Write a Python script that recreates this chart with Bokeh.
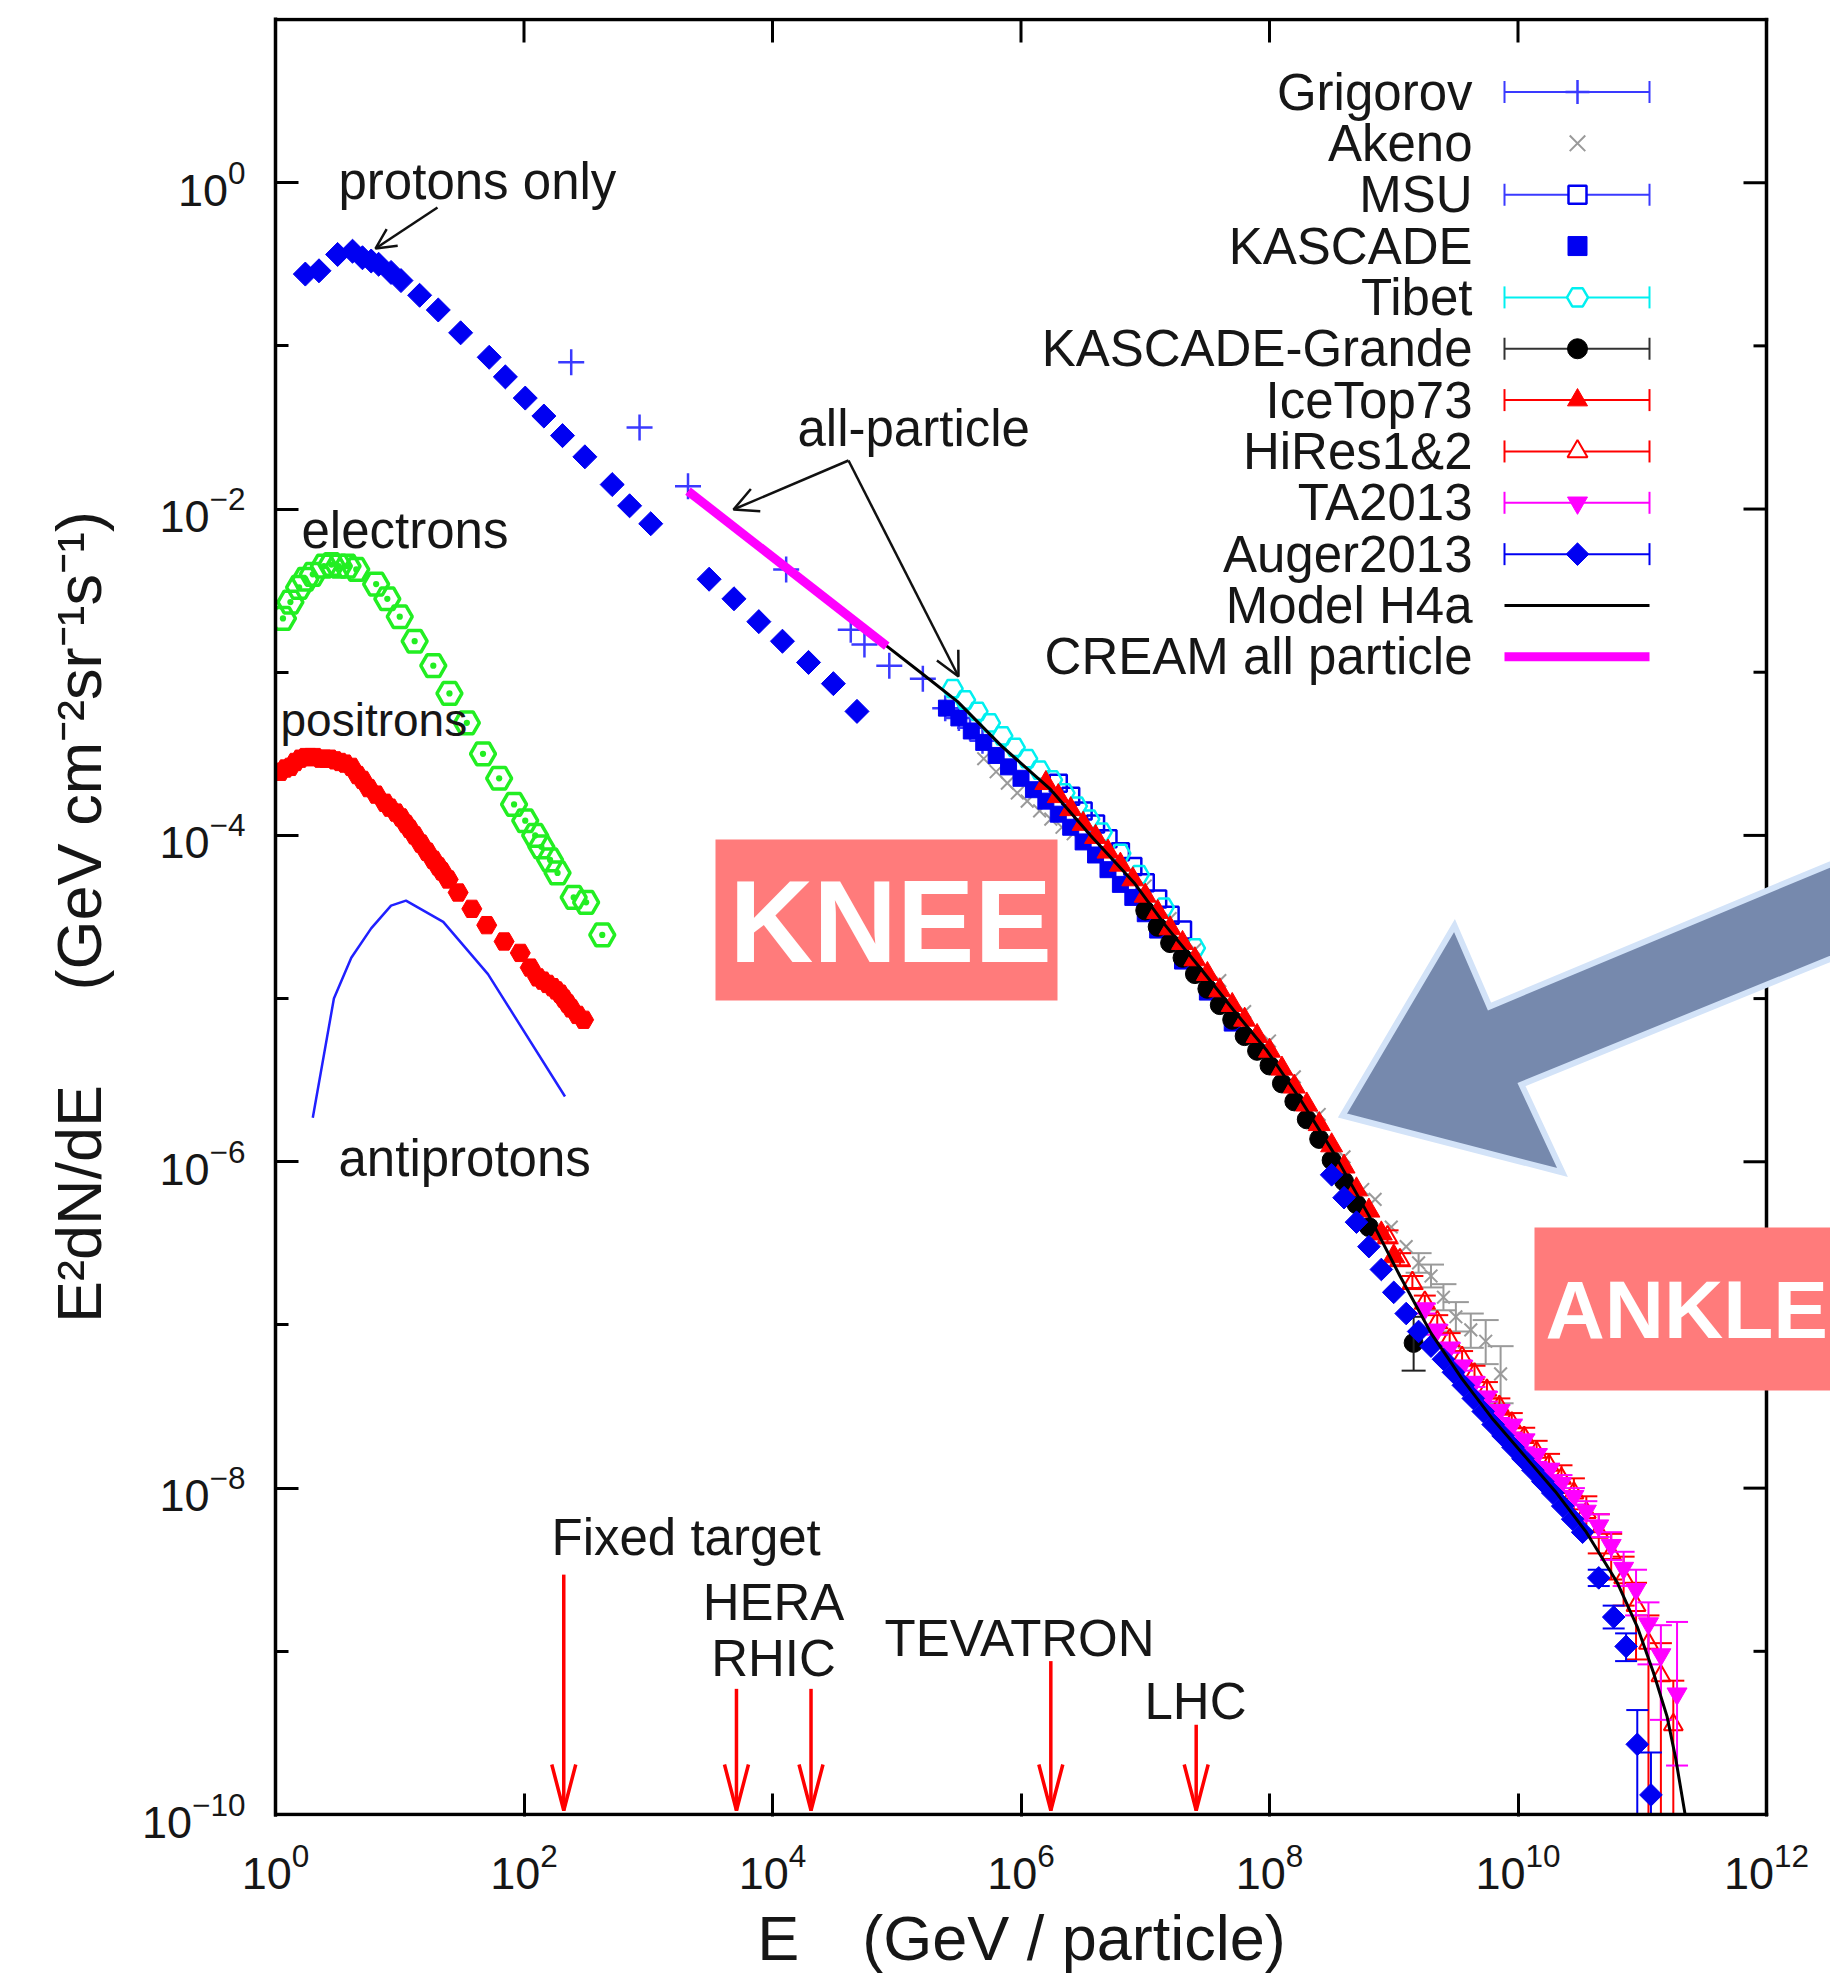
import numpy as np
from bokeh.plotting import figure
from bokeh.models import Range1d, LinearScale, FixedTicker, Arrow, OpenHead
from bokeh.embed import file_html
from bokeh.resources import INLINE
from bokeh.core.properties import value

# ---------------------------------------------------------------------------
# Data: log10(E / GeV) and log10(E^2 dN/dE [GeV cm^-2 sr^-1 s^-1])
# ---------------------------------------------------------------------------
protons_lgE = [0.24, 0.35, 0.50, 0.62, 0.70, 0.77, 0.83, 0.93, 1.01, 1.16, 1.31, 1.49, 1.72, 1.85,
               2.01, 2.16, 2.31, 2.49, 2.71, 2.85, 3.02, 3.49, 3.69, 3.89, 4.08, 4.29, 4.49, 4.68]
protons_lgF = [-0.56, -0.54, -0.44, -0.42, -0.46, -0.48, -0.50, -0.55, -0.60, -0.69, -0.78, -0.92, -1.07, -1.19,
               -1.32, -1.43, -1.55, -1.68, -1.85, -1.98, -2.09, -2.43, -2.55, -2.69, -2.81, -2.94, -3.07, -3.24]

electrons_lgE = [0.06, 0.12, 0.19, 0.24, 0.30, 0.39, 0.45, 0.51, 0.58, 0.65, 0.81, 0.90, 1.00, 1.12, 1.27,
                 1.40, 1.54, 1.67, 1.80, 1.92, 2.01, 2.09, 2.14, 2.21, 2.27, 2.40, 2.50, 2.63]
electrons_lgF = [-2.67, -2.57, -2.48, -2.43, -2.40, -2.35, -2.34, -2.35, -2.35, -2.37, -2.46, -2.55, -2.66, -2.81, -2.96,
                 -3.13, -3.31, -3.50, -3.65, -3.81, -3.91, -4.00, -4.07, -4.15, -4.23, -4.38, -4.41, -4.61]

positrons_lgE = [0.04, 0.08, 0.12, 0.16, 0.20, 0.24, 0.28, 0.32, 0.36, 0.40, 0.44, 0.48, 0.52, 0.56, 0.61,
                 0.66, 0.70, 0.75, 0.81, 0.88, 0.92, 0.97, 1.01, 1.05, 1.08, 1.12, 1.17, 1.22, 1.27, 1.31,
                 1.34, 1.39, 1.47, 1.58, 1.70, 1.84, 1.97, 2.05, 2.11, 2.15, 2.19, 2.23, 2.26, 2.29, 2.32,
                 2.35, 2.38, 2.43, 2.48]
positrons_lgF = [-3.61, -3.59, -3.58, -3.55, -3.53, -3.52, -3.52, -3.52, -3.53, -3.53, -3.53, -3.54, -3.55, -3.56, -3.58,
                 -3.63, -3.66, -3.71, -3.75, -3.80, -3.83, -3.86, -3.89, -3.93, -3.96, -4.00, -4.05, -4.10, -4.15, -4.19,
                 -4.22, -4.27, -4.35, -4.45, -4.55, -4.65, -4.72, -4.81, -4.87, -4.89, -4.91, -4.93, -4.95, -4.97, -5.00,
                 -5.03, -5.06, -5.10, -5.13]

antiprotons_lgE = [0.30, 0.47, 0.61, 0.77, 0.93, 1.05, 1.35, 1.71, 2.33]
antiprotons_lgF = [-5.73, -5.00, -4.75, -4.57, -4.43, -4.40, -4.53, -4.85, -5.60]

grigorov_lgE = [2.38, 2.93, 3.32, 4.11, 4.63, 4.74, 4.94, 5.21, 5.39, 5.50, 5.59, 5.69]
grigorov_lgF = [-1.10, -1.50, -1.86, -2.37, -2.74, -2.83, -2.96, -3.04, -3.22, -3.28, -3.34, -3.42]

cream_lgE = [3.32, 4.92]
cream_lgF = [-1.89, -2.84]

h4a_lgE = [3.32, 4.11, 4.92, 5.19, 5.49, 5.84, 6.24, 6.56, 6.91, 7.16, 7.45, 7.71, 7.98, 8.25, 8.52,
           8.80, 9.05, 9.30, 9.55, 9.80, 10.05, 10.30, 10.55, 10.80, 10.96, 11.09, 11.20, 11.27, 11.345]
h4a_lgF = [-1.89, -2.37, -2.84, -3.00, -3.18, -3.45, -3.72, -4.00, -4.29, -4.55, -4.82, -5.07, -5.32, -5.62, -5.95,
           -6.33, -6.70, -7.05, -7.33, -7.58, -7.80, -8.02, -8.27, -8.58, -8.85, -9.13, -9.40, -9.66, -10.0]

tibet_lgE = [5.45, 5.55, 5.65, 5.75, 5.85, 5.95, 6.05, 6.15, 6.25, 6.35, 6.45, 6.55, 6.65, 6.80, 6.95, 7.15, 7.40]
tibet_lgF = [-3.10, -3.17, -3.24, -3.31, -3.39, -3.46, -3.53, -3.60, -3.66, -3.74, -3.82, -3.90, -3.98, -4.11, -4.24, -4.44, -4.69]

msu_lgE = [6.30, 6.40, 6.50, 6.60, 6.70, 6.80, 6.90, 7.00, 7.10, 7.20, 7.30]
msu_lgF = [-3.68, -3.76, -3.85, -3.93, -4.02, -4.10, -4.19, -4.29, -4.39, -4.49, -4.58]

kascade_lgE = [5.40, 5.50, 5.60, 5.70, 5.80, 5.90, 6.00, 6.10, 6.20, 6.30, 6.40, 6.50, 6.60, 6.70, 6.80, 6.90,
               7.00, 7.10, 7.30, 7.50, 7.70]
kascade_lgF = [-3.22, -3.28, -3.36, -3.43, -3.51, -3.58, -3.65, -3.72, -3.79, -3.87, -3.95, -4.04, -4.12, -4.21, -4.30, -4.38,
               -4.48, -4.58, -4.77, -4.96, -5.15]

akeno_lgE = [5.70, 5.80, 5.89, 5.97, 6.05, 6.15, 6.24, 6.33, 6.42, 7.00, 7.20, 7.40, 7.60, 7.80, 8.00, 8.20, 8.40,
             8.60, 8.75, 8.85, 8.98, 9.10, 9.20, 9.30, 9.40, 9.50, 9.62, 9.74, 9.86]
akeno_lgF = [-3.53, -3.61, -3.68, -3.74, -3.79, -3.85, -3.90, -3.95, -3.99, -4.31, -4.51, -4.70, -4.89, -5.08, -5.26, -5.48, -5.71,
             -5.97, -6.17, -6.23, -6.40, -6.52, -6.62, -6.70, -6.83, -6.95, -7.03, -7.10, -7.30]
akeno_bar_lgE = [9.20, 9.30, 9.40, 9.50, 9.62, 9.74, 9.86]
akeno_bar_lo = [-6.68, -6.77, -6.91, -7.04, -7.14, -7.24, -7.48]
akeno_bar_hi = [-6.56, -6.63, -6.75, -6.86, -6.93, -6.97, -7.13]

kg_lgE = [7.0, 7.1, 7.2, 7.3, 7.4, 7.5, 7.6, 7.7, 7.8, 7.9, 8.0, 8.1, 8.2, 8.3, 8.4, 8.5, 8.6, 8.7, 8.8, 9.16]
kg_lgF = [-4.46, -4.56, -4.66, -4.75, -4.85, -4.94, -5.04, -5.13, -5.23, -5.32, -5.41, -5.52, -5.63, -5.74, -5.86,
          -5.99, -6.12, -6.26, -6.40, -7.11]
kg_bar_lgE = [9.16]
kg_bar_lo = [-7.28]
kg_bar_hi = [-6.95]

icetop_lgE = [6.2, 6.3, 6.4, 6.5, 6.6, 6.7, 6.8, 6.9, 7.0, 7.1, 7.2, 7.3, 7.4, 7.5, 7.6, 7.7, 7.8, 7.9, 8.0,
              8.1, 8.2, 8.3, 8.4, 8.5, 8.6, 8.7, 8.8, 8.9, 9.0]
icetop_lgF = [-3.68, -3.76, -3.84, -3.93, -4.01, -4.10, -4.18, -4.27, -4.37, -4.47, -4.57, -4.66, -4.76, -4.85, -4.95,
              -5.04, -5.13, -5.23, -5.32, -5.43, -5.54, -5.65, -5.77, -5.90, -6.03, -6.17, -6.30, -6.44, -6.58]

hires_lgE = [8.95, 9.05, 9.15, 9.25, 9.35, 9.45, 9.55, 9.65, 9.75, 9.85, 9.95, 10.05, 10.15, 10.25, 10.35, 10.45,
             10.55, 10.65, 10.75, 10.85, 10.95, 11.05, 11.15, 11.25]
hires_lgF = [-6.46, -6.60, -6.74, -6.86, -6.98, -7.09, -7.20, -7.30, -7.40, -7.50, -7.60, -7.69, -7.78, -7.86, -7.94, -8.03,
             -8.15, -8.27, -8.40, -8.55, -8.72, -8.95, -9.15, -9.45]
hires_lo = [-6.50, -6.64, -6.78, -6.90, -7.02, -7.13, -7.24, -7.35, -7.45, -7.55, -7.66, -7.76, -7.85, -7.94, -8.03, -8.13,
            -8.27, -8.40, -8.56, -8.72, -9.05, -10.0, -10.0, -10.0]
hires_hi = [-6.42, -6.56, -6.70, -6.82, -6.94, -7.05, -7.16, -7.25, -7.35, -7.45, -7.54, -7.63, -7.71, -7.79, -7.86, -7.94,
            -8.05, -8.16, -8.28, -8.42, -8.58, -8.78, -8.95, -9.18]

ta_lgE = [9.25, 9.35, 9.45, 9.55, 9.65, 9.75, 9.85, 9.95, 10.05, 10.15, 10.25, 10.35, 10.45, 10.55, 10.65, 10.75,
          10.85, 10.95, 11.05, 11.15, 11.28]
ta_lgF = [-6.90, -7.03, -7.14, -7.25, -7.35, -7.44, -7.53, -7.62, -7.71, -7.80, -7.89, -7.97, -8.05, -8.14, -8.23, -8.35,
          -8.49, -8.62, -8.83, -9.02, -9.26]
ta_lo = [-6.93, -7.06, -7.17, -7.28, -7.38, -7.47, -7.57, -7.66, -7.75, -7.84, -7.93, -8.02, -8.10, -8.20, -8.30, -8.44,
         -8.60, -8.78, -9.08, -9.42, -9.70]
ta_hi = [-6.87, -7.00, -7.11, -7.22, -7.32, -7.41, -7.49, -7.58, -7.67, -7.76, -7.85, -7.92, -8.00, -8.08, -8.16, -8.27,
         -8.39, -8.50, -8.70, -8.84, -8.82]

auger_lgE = [8.50, 8.60, 8.70, 8.80, 8.90, 9.00, 9.10, 9.20, 9.30, 9.40, 9.48, 9.56, 9.64, 9.72, 9.80, 9.88, 9.96,
             10.04, 10.12, 10.20, 10.28, 10.36, 10.44, 10.52, 10.65, 10.77, 10.87, 10.96, 11.07]
auger_lgF = [-6.08, -6.22, -6.37, -6.52, -6.66, -6.80, -6.93, -7.04, -7.13, -7.21, -7.29, -7.37, -7.45, -7.53, -7.61, -7.68,
             -7.75, -7.82, -7.89, -7.96, -8.03, -8.11, -8.19, -8.27, -8.55, -8.79, -8.97, -9.57, -9.88]
auger_bar_lgE = [10.65, 10.77, 10.87, 10.96, 11.07]
auger_bar_lo = [-8.60, -8.86, -9.06, -10.0, -10.0]
auger_bar_hi = [-8.50, -8.72, -8.89, -9.36, -9.62]

accel_names = ["Fixed target", "HERA", "RHIC", "TEVATRON", "LHC"]
accel_lgE = [2.32, 3.71, 4.31, 6.24, 7.41]
accel_top_lgF = [-8.53, -9.23, -9.23, -9.06, -9.45]

legend_labels = ["Grigorov", "Akeno", "MSU", "KASCADE", "Tibet", "KASCADE-Grande", "IceTop73",
                 "HiRes1&2", "TA2013", "Auger2013", "Model H4a", "CREAM all particle"]

x_tick_values = [1e0, 1e2, 1e4, 1e6, 1e8, 1e10, 1e12]
y_tick_values = [1e-10, 1e-8, 1e-6, 1e-4, 1e-2, 1e0]
y_minor_values = [1e-9, 1e-7, 1e-5, 1e-3, 1e-1, 1e1]
X_MIN, X_MAX = 1e0, 1e12          # plotted energy span (axis box)
Y_MIN, Y_MAX = 1e-10, 1e1         # plotted flux span (axis box)


def lin(a):
    return 10.0 ** np.asarray(a, dtype=float)


# ---------------------------------------------------------------------------
# Figure / layout  (page pixels; the page itself has no margin)
# ---------------------------------------------------------------------------
FONT = "Liberation Sans"
INK = "#161616"
BLUE = "#0000F2"
LBLUE = "#3a3aff"
RED = "#FF0000"
MAG = "#FF00FF"
CYAN = "#00F0F0"
GREEN = "#22EE22"
GRAY = "#9a9a9a"

W, H = 1830, 1977
BOX_L, BOX_R, BOX_T, BOX_B = 275, 1766, 19, 1814      # axis box in page pixels
DX = 12.0 / (BOX_R - BOX_L)                           # decades per pixel (x)
DY = 11.0 / (BOX_B - BOX_T)                           # decades per pixel (y)
FR_T, FR_B, FR_R = BOX_T - 2, BOX_B + 2, W            # drawing frame (a bit larger than the box)

p = figure(width=W, height=H, x_axis_type="log", y_axis_type="log",
           x_range=Range1d(X_MIN, 10 ** (np.log10(X_MAX) + (FR_R - BOX_R) * DX)),
           y_range=Range1d(10 ** (np.log10(Y_MIN) - (FR_B - BOX_B) * DY),
                           10 ** (np.log10(Y_MAX) + (BOX_T - FR_T) * DY)),
           output_backend="svg", toolbar_location=None,
           min_border_left=BOX_L, min_border_right=0,
           min_border_top=FR_T, min_border_bottom=H - FR_B)
p.outline_line_color = None
p.grid.visible = False
p.background_fill_color = "white"
p.border_fill_color = "white"

# pixel coordinate system (page pixels) for call-outs / legend
p.extra_x_ranges = {"px": Range1d(BOX_L, FR_R)}
p.extra_y_ranges = {"px": Range1d(FR_B, FR_T)}
p.extra_x_scales = {"px": LinearScale()}
p.extra_y_scales = {"px": LinearScale()}
PX = dict(x_range_name="px", y_range_name="px")

# --- Bokeh axes (left and bottom) ---
for ax, ticker, standoff in [(p.xaxis[0], FixedTicker(ticks=x_tick_values, minor_ticks=[]), 26),
                             (p.yaxis[0], FixedTicker(ticks=y_tick_values, minor_ticks=y_minor_values), 30)]:
    ax.ticker = ticker
    ax.axis_line_color = "black"
    ax.axis_line_width = 3.5
    ax.major_tick_in = 23
    ax.major_tick_out = 0
    ax.minor_tick_in = 13
    ax.minor_tick_out = 0
    ax.major_tick_line_color = "black"
    ax.major_tick_line_width = 3
    ax.minor_tick_line_color = "black"
    ax.minor_tick_line_width = 3
    ax.major_label_text_font = FONT
    ax.major_label_text_font_size = "45px"
    ax.major_label_text_color = INK
    ax.major_label_standoff = standoff
    ax.axis_label_text_font = FONT
    ax.axis_label_text_font_style = "normal"
    ax.axis_label_text_color = INK

p.xaxis[0].axis_line_color = None          # bottom border drawn below, limited to the axis box
p.xaxis[0].axis_label = "E\u2003(GeV / particle)\u2003"
p.xaxis[0].axis_label_text_font_size = "63px"
p.xaxis[0].axis_label_standoff = 11
p.yaxis[0].axis_label = "E\u00b2dN/dE\u2003\u2002(GeV cm\u207b\u00b2sr\u207b\u00b9s\u207b\u00b9)"
p.yaxis[0].axis_label_text_font_size = "63px"
p.yaxis[0].axis_label_standoff = 25


def errbars(lgE, lo, hi, color, lw=2, cap=22):
    x = lin(lgE)
    y0 = lin(lo)
    y1 = lin(hi)
    p.segment(x0=x, y0=y0, x1=x, y1=y1, line_color=color, line_width=lw)
    p.scatter(x=np.concatenate([x, x]), y=np.concatenate([y0, y1]), marker="dash",
              size=cap, line_color=color, line_width=lw)


# ---------------------------------------------------------------------------
# Low-energy species
# ---------------------------------------------------------------------------
p.scatter(lin(protons_lgE), lin(protons_lgF), marker="square", angle=np.pi / 4, size=17,
          fill_color=BLUE, line_color=BLUE)
p.scatter(lin(electrons_lgE), lin(electrons_lgF), marker="hex_dot", size=25,
          fill_color=None, line_color=GREEN, line_width=3.5)
p.scatter(lin(positrons_lgE), lin(positrons_lgF), marker="hex", size=20,
          fill_color=RED, line_color=RED)
p.line(lin(antiprotons_lgE), lin(antiprotons_lgF), line_color="#2020ff", line_width=2.5)

# ---------------------------------------------------------------------------
# All-particle data
# ---------------------------------------------------------------------------
p.scatter(lin(grigorov_lgE), lin(grigorov_lgF), marker="cross", size=26, line_color=LBLUE, line_width=2.5)
p.scatter(lin(akeno_lgE), lin(akeno_lgF), marker="x", size=18, line_color=GRAY, line_width=2)
errbars(akeno_bar_lgE, akeno_bar_lo, akeno_bar_hi, GRAY, 2, 26)
p.scatter(lin(kascade_lgE), lin(kascade_lgF), marker="square", size=16, fill_color=BLUE, line_color=BLUE)
p.scatter(lin(msu_lgE), lin(msu_lgF), marker="square", size=17, fill_color=None, line_color=BLUE, line_width=2.5)
p.scatter(lin(tibet_lgE), lin(tibet_lgF), marker="hex", size=20, fill_color=None, line_color=CYAN, line_width=2.5)
p.scatter(lin(kg_lgE), lin(kg_lgF), marker="circle", size=19, fill_color="black", line_color="black")
errbars(kg_bar_lgE, kg_bar_lo, kg_bar_hi, "#222222", 2, 24)
p.scatter(lin(icetop_lgE), lin(icetop_lgF), marker="triangle", size=22, fill_color=RED, line_color=RED)
errbars(hires_lgE, hires_lo, hires_hi, RED, 2, 22)
p.scatter(lin(hires_lgE), lin(hires_lgF), marker="triangle", size=19, fill_color=None, line_color=RED, line_width=2)
errbars(ta_lgE, ta_lo, ta_hi, MAG, 2, 22)
p.scatter(lin(ta_lgE), lin(ta_lgF), marker="inverted_triangle", size=20, fill_color=MAG, line_color=MAG)
errbars(auger_bar_lgE, auger_bar_lo, auger_bar_hi, BLUE, 2, 22)
p.scatter(lin(auger_lgE), lin(auger_lgF), marker="square", angle=np.pi / 4, size=16,
          fill_color=BLUE, line_color=BLUE)

p.line(lin(h4a_lgE), lin(h4a_lgF), line_color="black", line_width=3)
p.line(lin(cream_lgE), lin(cream_lgF), line_color=MAG, line_width=9)

# ---------------------------------------------------------------------------
# Axis box: bottom / top / right borders and the inward ticks of top and right
# ---------------------------------------------------------------------------
p.segment(x0=[X_MIN, X_MIN, X_MAX], y0=[Y_MIN, Y_MAX, Y_MIN],
          x1=[X_MAX, X_MAX, X_MAX], y1=[Y_MIN, Y_MAX, Y_MAX],
          line_color="black", line_width=3.5, line_cap="square")
top_x = [t for t in x_tick_values if X_MIN < t < X_MAX]
p.segment(x0=top_x, y0=[Y_MAX] * len(top_x), x1=top_x, y1=[Y_MAX * 10 ** (-23 * DY)] * len(top_x),
          line_color="black", line_width=3)
right_y = [t for t in sorted(y_tick_values + y_minor_values) if Y_MIN < t < Y_MAX]
right_len = [23 if t in y_tick_values else 13 for t in right_y]
p.segment(x0=[X_MAX] * len(right_y), y0=right_y,
          x1=[X_MAX * 10 ** (-L * DX) for L in right_len], y1=right_y,
          line_color="black", line_width=3)

# ---------------------------------------------------------------------------
# Accelerator arrows (red)
# ---------------------------------------------------------------------------
def px_x(lgE):
    return BOX_L + lgE / DX


def px_y(lgF):
    return BOX_T + (np.log10(Y_MAX) - lgF) / DY


tip = BOX_B - 4
for lgE, top in zip(accel_lgE, accel_top_lgF):
    X = px_x(lgE)
    p.segment(x0=[X], y0=[px_y(top)], x1=[X], y1=[tip], line_color=RED, line_width=3.5, **PX)
    p.multi_line(xs=[[X - 12, X, X + 12]], ys=[[tip - 46, tip, tip - 46]], line_color=RED,
                 line_width=3.5, **PX)

# ---------------------------------------------------------------------------
# Legend (drawn manually, text to the left of the sample)
# ---------------------------------------------------------------------------
row_y = [91.5 + 51.35 * i for i in range(len(legend_labels))]
LX0, LX1, LXM, LTX = 1504, 1649, 1577, 1472
p.text(x=[LTX] * len(legend_labels), y=row_y, text=legend_labels, text_align="right",
       text_baseline="middle", text_font=value(FONT), text_font_size="51px", text_color=INK, **PX)

bar_rows = {0: LBLUE, 2: LBLUE, 4: CYAN, 5: "#333333", 6: RED, 7: RED, 8: MAG, 9: BLUE}
for i, col in bar_rows.items():
    y = row_y[i]
    p.segment(x0=[LX0], y0=[y], x1=[LX1], y1=[y], line_color=col, line_width=2, **PX)
    p.scatter(x=[LX0, LX1], y=[y, y], marker="dash", angle=np.pi / 2, size=22,
              line_color=col, line_width=2, **PX)

p.scatter([LXM], [row_y[0]], marker="cross", size=24, line_color=LBLUE, line_width=2.5, **PX)
p.scatter([LXM], [row_y[1]], marker="x", size=22, line_color=GRAY, line_width=2, **PX)
p.scatter([LXM], [row_y[2]], marker="square", size=18, fill_color="white", line_color=BLUE, line_width=2.5, **PX)
p.scatter([LXM], [row_y[3]], marker="square", size=19, fill_color=BLUE, line_color=BLUE, **PX)
p.scatter([LXM], [row_y[4]], marker="hex", size=21, fill_color="white", line_color=CYAN, line_width=2.5, **PX)
p.scatter([LXM], [row_y[5]], marker="circle", size=20, fill_color="black", line_color="black", **PX)
p.scatter([LXM], [row_y[6]], marker="triangle", size=20, fill_color=RED, line_color=RED, **PX)
p.scatter([LXM], [row_y[7]], marker="triangle", size=20, fill_color="white", line_color=RED, line_width=2, **PX)
p.scatter([LXM], [row_y[8]], marker="inverted_triangle", size=20, fill_color=MAG, line_color=MAG, **PX)
p.scatter([LXM], [row_y[9]], marker="square", angle=np.pi / 4, size=16, fill_color=BLUE, line_color=BLUE, **PX)
p.segment(x0=[LX0], y0=[row_y[10]], x1=[LX1], y1=[row_y[10]], line_color="black", line_width=3, **PX)
p.segment(x0=[LX0], y0=[row_y[11]], x1=[LX1], y1=[row_y[11]], line_color=MAG, line_width=9, **PX)

# ---------------------------------------------------------------------------
# Text annotations (text glyphs, vertically centred)
# ---------------------------------------------------------------------------
def note(text, x, y, align="left", size="51px", color=INK, style="normal", level="glyph"):
    p.text(x=[x], y=[y], text=[text], text_align=align, text_baseline="middle",
           text_font=value(FONT), text_font_size=size, text_color=color,
           text_font_style=style, level=level, **PX)


note("protons only", 338, 181)
note("all-particle", 797, 428)
note("electrons", 301, 530)
note("positrons", 280, 719, size="46px")
note("antiprotons", 338, 1158)
note(accel_names[0], 551, 1537)
note(accel_names[1], 773, 1602, align="center")
note(accel_names[2], 773, 1658, align="center")
note(accel_names[3], 884, 1638)
note(accel_names[4], 1144, 1701)

# black arrows
for (xs, ys, xe, ye, hs) in [(437, 207, 375, 248, 20), (848, 460, 733, 509, 24), (848, 460, 958, 676, 24)]:
    p.add_layout(Arrow(x_start=xs, y_start=ys, x_end=xe, y_end=ye, line_width=2.5, line_color="#111111",
                       end=OpenHead(size=hs, line_width=2.5, line_color="#111111"), **PX))

# ---------------------------------------------------------------------------
# Call-outs drawn on top (KNEE / ANKLE boxes and the big arrow)
# ---------------------------------------------------------------------------
SALMON = "#FF7B7B"
p.quad(left=[715], right=[1057], top=[839], bottom=[1000], fill_color=SALMON, line_color=None,
       level="overlay", **PX)
note("KNEE", 729, 921, size="116px", color="white", style="bold", level="overlay")

p.patch(x=[1342, 1454, 1489, 1870, 1870, 1521, 1562], y=[1115, 925, 1006, 847, 942, 1084, 1172],
        fill_color="#7689AD", line_color="#D3E3F8", line_width=6, line_join="miter", level="overlay", **PX)

p.quad(left=[1534], right=[1900], top=[1227], bottom=[1390], fill_color=SALMON, line_color=None,
       level="overlay", **PX)
note("ANKLE", 1545, 1309, size="82px", color="white", style="bold", level="overlay")

open("out.html", "w").write(file_html(p, INLINE, "Cosmic ray spectrum"))
